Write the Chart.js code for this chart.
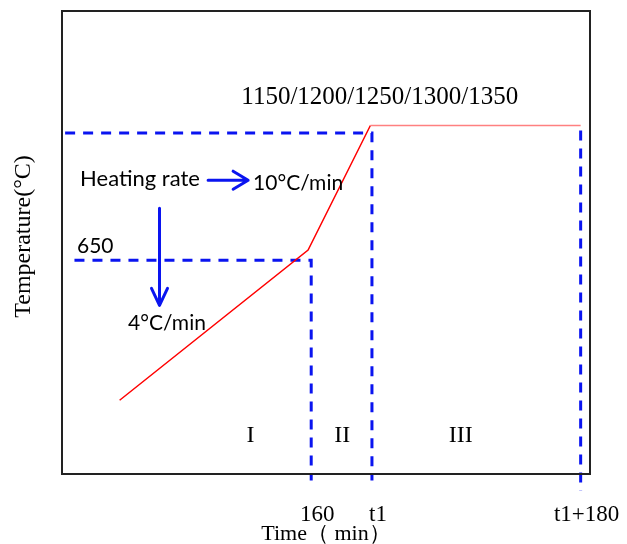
<!DOCTYPE html>
<html>
<head>
<meta charset="utf-8">
<script src="https://cdn.jsdelivr.net/npm/chart.js@4/dist/chart.umd.min.js"></script>
<style>
  html, body { margin: 0; padding: 0; background: #fff; }
  canvas { display: block; }
</style>
</head>
<body>
<canvas id="chart" width="627" height="544"></canvas>
<script>
// tiempo en minutos (escala esquemática) y temperatura en °C
const xTicks = [160, 199, 333];
const xTickLabels = ['160', 't1', 't1+180'];

// curva de calentamiento: rampa 4°C/min, rampa 10°C/min y mantenimiento
const rampTime = [37, 158, 198, 333];
const rampTemp = [100, 690, 1180, 1180];

// líneas guía discontinuas
const guide650Time = [8, 160, 160];
const guide650Temp = [650, 650, -216];
const guideTopTime = [2, 199, 199];
const guideTopTemp = [1150, 1150, -216];
const guideEndTime = [333, 333];
const guideEndTemp = [1160, -256];

// etapas
const stageNames = ['I', 'II', 'III'];
const stageTime = [121, 180, 256];

const serif = "'Liberation Serif', 'Times New Roman', 'DejaVu Serif', serif";
const sans = "Lato, 'Noto Sans', 'Liberation Sans', sans-serif";
const blue = '#0a14f0';

function pts(xs, ys) {
    return xs.map((x, i) => ({ x: x, y: ys[i] }));
}

function guide(xs, ys) {
    return {
        data: pts(xs, ys),
        borderColor: blue,
        borderWidth: 3,
        borderDash: [10, 8],
        pointRadius: 0,
        clip: false,
        order: 2
    };
}

// marco, textos y flechas
const extras = {
    id: 'extras',
    afterDatasetsDraw(chart) {
        const ctx = chart.ctx;
        const a = chart.chartArea;
        const sx = chart.scales.x, sy = chart.scales.y;
        const X = v => sx.getPixelForValue(v);
        const Y = v => sy.getPixelForValue(v);

        ctx.save();
        ctx.strokeStyle = '#222';
        ctx.lineWidth = 2;
        ctx.strokeRect(a.left, a.top, a.right - a.left, a.bottom - a.top);

        ctx.fillStyle = '#000';
        ctx.textBaseline = 'middle';

        ctx.font = '25px ' + serif;
        ctx.textAlign = 'center';
        ctx.fillText('1150/1200/1250/1300/1350', X(204), Y(1292));

        ctx.font = '24px ' + serif;
        stageNames.forEach((s, i) => ctx.fillText(s, X(stageTime[i]), Y(-39)));

        ctx.textAlign = 'left';
        ctx.font = '22px ' + sans;
        ctx.fillText('Heating rate', X(11.6), Y(969));
        ctx.font = '21px ' + sans;
        ctx.fillText('650', X(9.6), Y(705));
        ctx.fillText('10°C/min', X(122.7), Y(953));
        ctx.fillText('4°C/min', X(42.4), Y(402));

        // flechas
        ctx.strokeStyle = blue;
        ctx.lineWidth = 3;
        ctx.lineCap = 'round';
        ctx.lineJoin = 'round';
        const hx0 = X(93.8), hx1 = X(119.5), hy = Y(965);
        ctx.beginPath();
        ctx.moveTo(hx0, hy); ctx.lineTo(hx1, hy);
        ctx.moveTo(hx1 - 15, hy - 9); ctx.lineTo(hx1, hy); ctx.lineTo(hx1 - 15, hy + 9);
        ctx.stroke();
        const vx = X(62.6), vy0 = Y(855), vy1 = Y(473);
        ctx.beginPath();
        ctx.moveTo(vx, vy0); ctx.lineTo(vx, vy1);
        ctx.moveTo(vx - 8, vy1 - 17); ctx.lineTo(vx, vy1); ctx.lineTo(vx + 8, vy1 - 17);
        ctx.stroke();
        ctx.restore();
    }
};

new Chart(document.getElementById('chart'), {
    type: 'line',
    data: {
        datasets: [
            {
                data: pts(rampTime, rampTemp),
                borderWidth: 1.5,
                borderColor: '#ff0000',
                segment: {
                    borderColor: c => c.p0DataIndex === 2 ? '#ff8080' : '#ff0000'
                },
                pointRadius: 0,
                order: 1
            },
            guide(guide650Time, guide650Temp),
            guide(guideTopTime, guideTopTemp),
            guide(guideEndTime, guideEndTemp)
        ]
    },
    options: {
        responsive: false,
        animation: false,
        layout: { padding: { top: 11, right: 37, left: 0, bottom: 0 } },
        plugins: { legend: { display: false }, tooltip: { enabled: false } },
        scales: {
            x: {
                type: 'linear',
                min: 0,
                max: 339,
                grid: { display: false, drawTicks: false },
                border: { display: false },
                afterBuildTicks: s => { s.ticks = xTicks.map(v => ({ value: v })); },
                ticks: {
                    autoSkip: false,
                    maxRotation: 0,
                    padding: 27,
                    labelOffset: 6,
                    color: '#000',
                    font: { family: serif, size: 23 },
                    callback: (v, i) => xTickLabels[i]
                },
                title: {
                    display: true,
                    text: 'Time（ min）',
                    color: '#000',
                    font: { family: serif, size: 22 },
                    padding: { top: 0, bottom: -3 }
                },
                afterFit: s => {
                    s.height = 70;
                    s.paddingLeft = 0;
                    s.paddingRight = 0;
                }
            },
            y: {
                min: -190,
                max: 1630,
                grid: { display: false },
                border: { display: false },
                ticks: { display: false },
                title: {
                    display: true,
                    text: '  Temperature(°C)',
                    color: '#000',
                    font: { family: serif, size: 24 },
                    padding: { top: 9, bottom: 0 }
                },
                afterFit: s => {
                    s.width = 62;
                    s.paddingTop = 0;
                    s.paddingBottom = 0;
                }
            }
        }
    },
    plugins: [extras]
});
</script>
</body>
</html>
